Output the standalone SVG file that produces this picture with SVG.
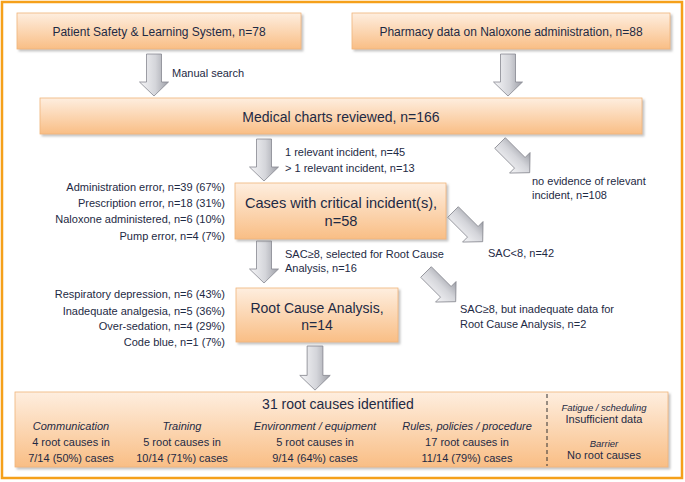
<svg xmlns="http://www.w3.org/2000/svg" width="685" height="482" viewBox="0 0 685 482">
<defs>
<linearGradient id="boxg" x1="0" y1="0" x2="0" y2="1">
<stop offset="0" stop-color="#FEEEDF"/>
<stop offset="1" stop-color="#F9BE85"/>
</linearGradient>
<linearGradient id="arrg" x1="0" y1="0" x2="1" y2="0">
<stop offset="0" stop-color="#F6F6F8"/>
<stop offset="0.55" stop-color="#D4D5DA"/>
<stop offset="1" stop-color="#9C9EA6"/>
</linearGradient>
<filter id="sh" x="-5%" y="-5%" width="115%" height="125%">
<feDropShadow dx="2" dy="2" stdDeviation="1" flood-color="#888" flood-opacity="0.5"/>
</filter>
<path id="arr" d="M-7.5,0 H7.5 V28 H14.5 L0,42 L-14.5,28 H-7.5 Z"/>
</defs>
<style>
.box{fill:url(#boxg);stroke:#EFB57A;stroke-width:0.8;filter:url(#sh)}
.a{fill:url(#arrg);stroke:#85878F;stroke-width:0.8}
text{font-family:"Liberation Sans",Arial,sans-serif;fill:#1E2A44}
.s{font-size:11px}
.m{font-size:12px}
.l{font-size:14px}
.c{text-anchor:middle}
.r{text-anchor:end}
.i{font-style:italic}
</style>
<rect x="2" y="2" width="680" height="476" fill="#FFFFFF" stroke="#F5A01A" stroke-width="2.5"/>

<g id="connectors">
<use href="#arr" class="a" transform="translate(154,54)"/>
<use href="#arr" class="a" transform="translate(508,54)"/>
<use href="#arr" class="a" transform="translate(264,139)"/>
<use href="#arr" class="a" transform="translate(264,241)"/>
<use href="#arr" class="a" transform="translate(315,346) scale(1.05)"/>
<use href="#arr" class="a" transform="translate(500,143) rotate(-45)"/>
<use href="#arr" class="a" transform="translate(453,212) rotate(-45)"/>
<use href="#arr" class="a" transform="translate(426,272) rotate(-45)"/>
<text class="s" x="172" y="77">Manual search</text>
<text class="s" x="285" y="156">1 relevant incident, n=45</text>
<text class="s" x="285" y="172">&gt; 1 relevant incident, n=13</text>
<text class="s" x="532" y="185">no evidence of relevant</text>
<text class="s" x="532" y="199">incident, n=108</text>
<text class="s" x="488" y="257">SAC&lt;8, n=42</text>
<text class="s" x="285" y="258">SAC≥8, selected for Root Cause</text>
<text class="s" x="285" y="272">Analysis, n=16</text>
<text class="s" x="460" y="313">SAC≥8, but inadequate data for</text>
<text class="s" x="460" y="328">Root Cause Analysis, n=2</text>
</g>

<g id="psls">
<rect class="box" x="17" y="13" width="284" height="36"/>
<text class="m c" x="159" y="36">Patient Safety &amp; Learning System, n=78</text>
</g>
<g id="pharmacy">
<rect class="box" x="352" y="13" width="318" height="36"/>
<text class="m c" x="511" y="36">Pharmacy data on Naloxone administration, n=88</text>
</g>
<g id="charts">
<rect class="box" x="40" y="98" width="602" height="36"/>
<text class="l c" x="341" y="122">Medical charts reviewed, n=166</text>
</g>
<g id="cases">
<rect class="box" x="235" y="183" width="211" height="56"/>
<text class="c" x="341" y="208" style="font-size:14.6px">Cases with critical incident(s),</text>
<text class="c" x="341" y="226" style="font-size:14.6px">n=58</text>
<text class="s r" x="225" y="191">Administration error, n=39 (67%)</text>
<text class="s r" x="225" y="207">Prescription error, n=18 (31%)</text>
<text class="s r" x="225" y="223">Naloxone administered, n=6 (10%)</text>
<text class="s r" x="225" y="240">Pump error, n=4 (7%)</text>
</g>
<g id="rca">
<rect class="box" x="236" y="288" width="162" height="54"/>
<text class="l c" x="317" y="313">Root Cause Analysis,</text>
<text class="l c" x="317" y="330">n=14</text>
<text class="s r" x="225" y="298">Respiratory depression, n=6 (43%)</text>
<text class="s r" x="225" y="315">Inadequate analgesia, n=5 (36%)</text>
<text class="s r" x="225" y="330">Over-sedation, n=4 (29%)</text>
<text class="s r" x="225" y="346">Code blue, n=1 (7%)</text>
</g>
<g id="rootcauses">
<rect class="box" x="15" y="392" width="653" height="75"/>
<line x1="547" y1="394" x2="547" y2="466" stroke="#333" stroke-width="1" stroke-dasharray="4,3"/>
<text class="c" x="338" y="409" style="font-size:14px">31 root causes identified</text>
<text class="s c i" x="71" y="430">Communication</text>
<text class="s c" x="71" y="446">4 root causes in</text>
<text class="s c" x="71" y="462">7/14 (50%) cases</text>
<text class="s c i" x="182" y="430">Training</text>
<text class="s c" x="182" y="446">5 root causes in</text>
<text class="s c" x="182" y="462">10/14 (71%) cases</text>
<text class="s c i" x="315" y="430">Environment / equipment</text>
<text class="s c" x="315" y="446">5 root causes in</text>
<text class="s c" x="315" y="462">9/14 (64%) cases</text>
<text class="s c i" x="467" y="430">Rules, policies / procedure</text>
<text class="s c" x="467" y="446">17 root causes in</text>
<text class="s c" x="467" y="462">11/14 (79%) cases</text>
<text class="c i" x="604" y="411" style="font-size:9.5px">Fatigue / scheduling</text>
<text class="s c" x="604" y="423">Insufficient data</text>
<text class="c i" x="604" y="447" style="font-size:9.5px">Barrier</text>
<text class="s c" x="604" y="459">No root causes</text>
</g>
</svg>
